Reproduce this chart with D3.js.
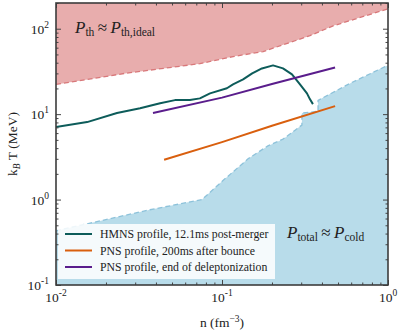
<!DOCTYPE html>
<html>
<head>
<meta charset="utf-8">
<script src="https://cdn.jsdelivr.net/npm/d3@7"></script>
<style>
  body { margin: 0; background: #fff; }
  svg text { font-family: "Liberation Serif", "DejaVu Serif", serif; fill: #222; }
</style>
</head>
<body>
<svg id="chart" width="399" height="333"></svg>
<script>
// region boundaries [n (fm^-3), kT (MeV)]
const idealEdge = [[0.01, 22.3], [0.026, 30], [0.0736, 39], [0.1165, 47.2], [0.177, 54], [0.339, 83], [0.467, 108], [1.0, 171]];
const coldEdge = [[0.01, 0.43], [0.011, 0.45], [0.0368, 0.76], [0.0758, 1.0], [0.101, 1.66], [0.1435, 3.0], [0.189, 4.25],
  [0.233, 5.1], [0.303, 7.45], [0.303, 10.3], [0.379, 10.8], [0.379, 14.5], [0.59, 22.9], [0.96, 36], [1.0, 37]];

// profiles
const hmns = [[0.01, 7.07], [0.0154, 8.07], [0.0233, 10.3], [0.0321, 11.7], [0.0424, 13.4], [0.0521, 14.6], [0.0641, 14.6],
  [0.0736, 15.3], [0.0847, 17.5], [0.107, 20.1], [0.1165, 22.3], [0.134, 25.5], [0.152, 30], [0.174, 34.3], [0.203, 37.2],
  [0.233, 34.3], [0.264, 29.2], [0.295, 22.3], [0.325, 17.5], [0.339, 14.9], [0.353, 13.1]];
const pnsBounce = [[0.0448, 2.92], [0.1, 4.7], [0.2, 7.3], [0.48, 12.4]];
const pnsDelept = [[0.0384, 10.3], [0.1, 15.6], [0.2, 22.5], [0.48, 35.2]];

const series = [
  { name: "HMNS profile, 12.1ms post-merger", data: hmns, color: "#0d5c5a" },
  { name: "PNS profile, 200ms after bounce", data: pnsBounce, color: "#d95f0e" },
  { name: "PNS profile, end of deleptonization", data: pnsDelept, color: "#5a1d8c" }
];

const xMajor = [0.01, 0.1, 1];
const xMajorLabels = ["-2", "-1", "0"];
const yMajor = [0.1, 1, 10, 100];
const yMajorLabels = ["-1", "0", "1", "2"];

const svg = d3.select("#chart");
const pL = 56, pR = 388, pT = 3, pB = 285;

const x = d3.scaleLog().domain([0.01, 1]).range([pL, pR]);
const y = d3.scaleLog().domain([0.1, 200]).range([pB, pT]);

svg.append("clipPath").attr("id", "clip")
  .append("rect").attr("x", pL).attr("y", pT).attr("width", pR - pL).attr("height", pB - pT);

const plot = svg.append("g").attr("clip-path", "url(#clip)");

// shaded regions
const topArea = d3.area().x(d => x(d[0])).y0(pT).y1(d => y(d[1]));
const botArea = d3.area().x(d => x(d[0])).y0(pB).y1(d => y(d[1]));
const edge = d3.line().x(d => x(d[0])).y(d => y(d[1]));

plot.append("path").attr("d", topArea(idealEdge)).attr("fill", "#e8adad");
plot.append("path").attr("d", edge(idealEdge)).attr("fill", "none")
  .attr("stroke", "#d8787a").attr("stroke-width", 1.3).attr("stroke-dasharray", "5,3");

plot.append("path").attr("d", botArea(coldEdge)).attr("fill", "#b8dcea");
plot.append("path").attr("d", edge(coldEdge)).attr("fill", "none")
  .attr("stroke", "#8dc2da").attr("stroke-width", 1.3).attr("stroke-dasharray", "5,3");

// profile lines
series.forEach(s => {
  plot.append("path").attr("d", edge(s.data)).attr("fill", "none")
    .attr("stroke", s.color).attr("stroke-width", 2).attr("stroke-linejoin", "round");
});

// legend
const lg = svg.append("g");
lg.append("rect").attr("x", 58).attr("y", 224).attr("width", 217).attr("height", 55)
  .attr("fill", "#fff").attr("fill-opacity", 0.85);
series.forEach((s, i) => {
  const ly = 234 + i * 16.5;
  lg.append("line").attr("x1", 65).attr("x2", 92).attr("y1", ly).attr("y2", ly)
    .attr("stroke", s.color).attr("stroke-width", 2);
  lg.append("text").attr("x", 100).attr("y", ly + 4).attr("font-size", 11.8).text(s.name);
});

// axes: inward ticks on all four sides
const xMinor = x.ticks().filter(v => !xMajor.includes(v));
const yMinor = y.ticks().filter(v => !yMajor.includes(v) && v <= 200);

function tickAxis(axisFn, scale, values, size, transform) {
  const g = svg.append("g").attr("transform", transform)
    .call(axisFn(scale).tickValues(values).tickSize(-size).tickFormat(""));
  g.select(".domain").remove();
  g.selectAll(".tick line").attr("stroke", "#444").attr("stroke-width", 1);
  return g;
}
tickAxis(d3.axisBottom, x, xMajor, 5, `translate(0,${pB})`);
tickAxis(d3.axisBottom, x, xMinor, 2.5, `translate(0,${pB})`);
tickAxis(d3.axisTop, x, xMajor, 5, `translate(0,${pT})`);
tickAxis(d3.axisTop, x, xMinor, 2.5, `translate(0,${pT})`);
tickAxis(d3.axisLeft, y, yMajor, 5, `translate(${pL},0)`);
tickAxis(d3.axisLeft, y, yMinor, 2.5, `translate(${pL},0)`);
tickAxis(d3.axisRight, y, yMajor, 5, `translate(${pR},0)`);
tickAxis(d3.axisRight, y, yMinor, 2.5, `translate(${pR},0)`);

svg.append("rect").attr("x", pL).attr("y", pT).attr("width", pR - pL).attr("height", pB - pT)
  .attr("fill", "none").attr("stroke", "#3c3c3c").attr("stroke-width", 1.6);

// tick labels
xMajor.forEach((v, i) => {
  const t = svg.append("text").attr("x", x(v)).attr("y", 302).attr("text-anchor", "middle").attr("font-size", 13.5);
  t.append("tspan").text("10");
  t.append("tspan").attr("dy", -6).attr("font-size", 9.5).text(xMajorLabels[i]);
});
yMajor.forEach((v, i) => {
  const t = svg.append("text").attr("x", 49).attr("y", y(v) + 5).attr("text-anchor", "end").attr("font-size", 13.5);
  t.append("tspan").text("10");
  t.append("tspan").attr("dy", -6).attr("font-size", 9.5).text(yMajorLabels[i]);
});

// axis titles
const xl = svg.append("text").attr("x", 222).attr("y", 327).attr("text-anchor", "middle").attr("font-size", 13.5);
xl.append("tspan").text("n (fm");
xl.append("tspan").attr("dy", -5).attr("font-size", 9.5).text("−3");
xl.append("tspan").attr("dy", 5).text(")");

const yl = svg.append("text").attr("transform", "translate(17,144) rotate(-90)")
  .attr("text-anchor", "middle").attr("font-size", 13.5);
yl.append("tspan").text("k");
yl.append("tspan").attr("dy", 3).attr("font-size", 9.5).attr("font-style", "italic").text("B");
yl.append("tspan").attr("dy", -3).text(" T (MeV)");

// region annotations
function pLabel(px, py, sub1, sub2) {
  const t = svg.append("text").attr("x", px).attr("y", py).attr("font-size", 17);
  t.append("tspan").attr("font-style", "italic").text("P");
  t.append("tspan").attr("dy", 3).attr("font-size", 11.5).text(sub1);
  t.append("tspan").attr("dy", -3).text("\u2009≈\u2009");
  t.append("tspan").attr("font-style", "italic").text("P");
  t.append("tspan").attr("dy", 3).attr("font-size", 11.5).text(sub2);
}
pLabel(75, 33, "th", "th,ideal");
pLabel(287, 238, "total", "cold");
</script>
</body>
</html>
